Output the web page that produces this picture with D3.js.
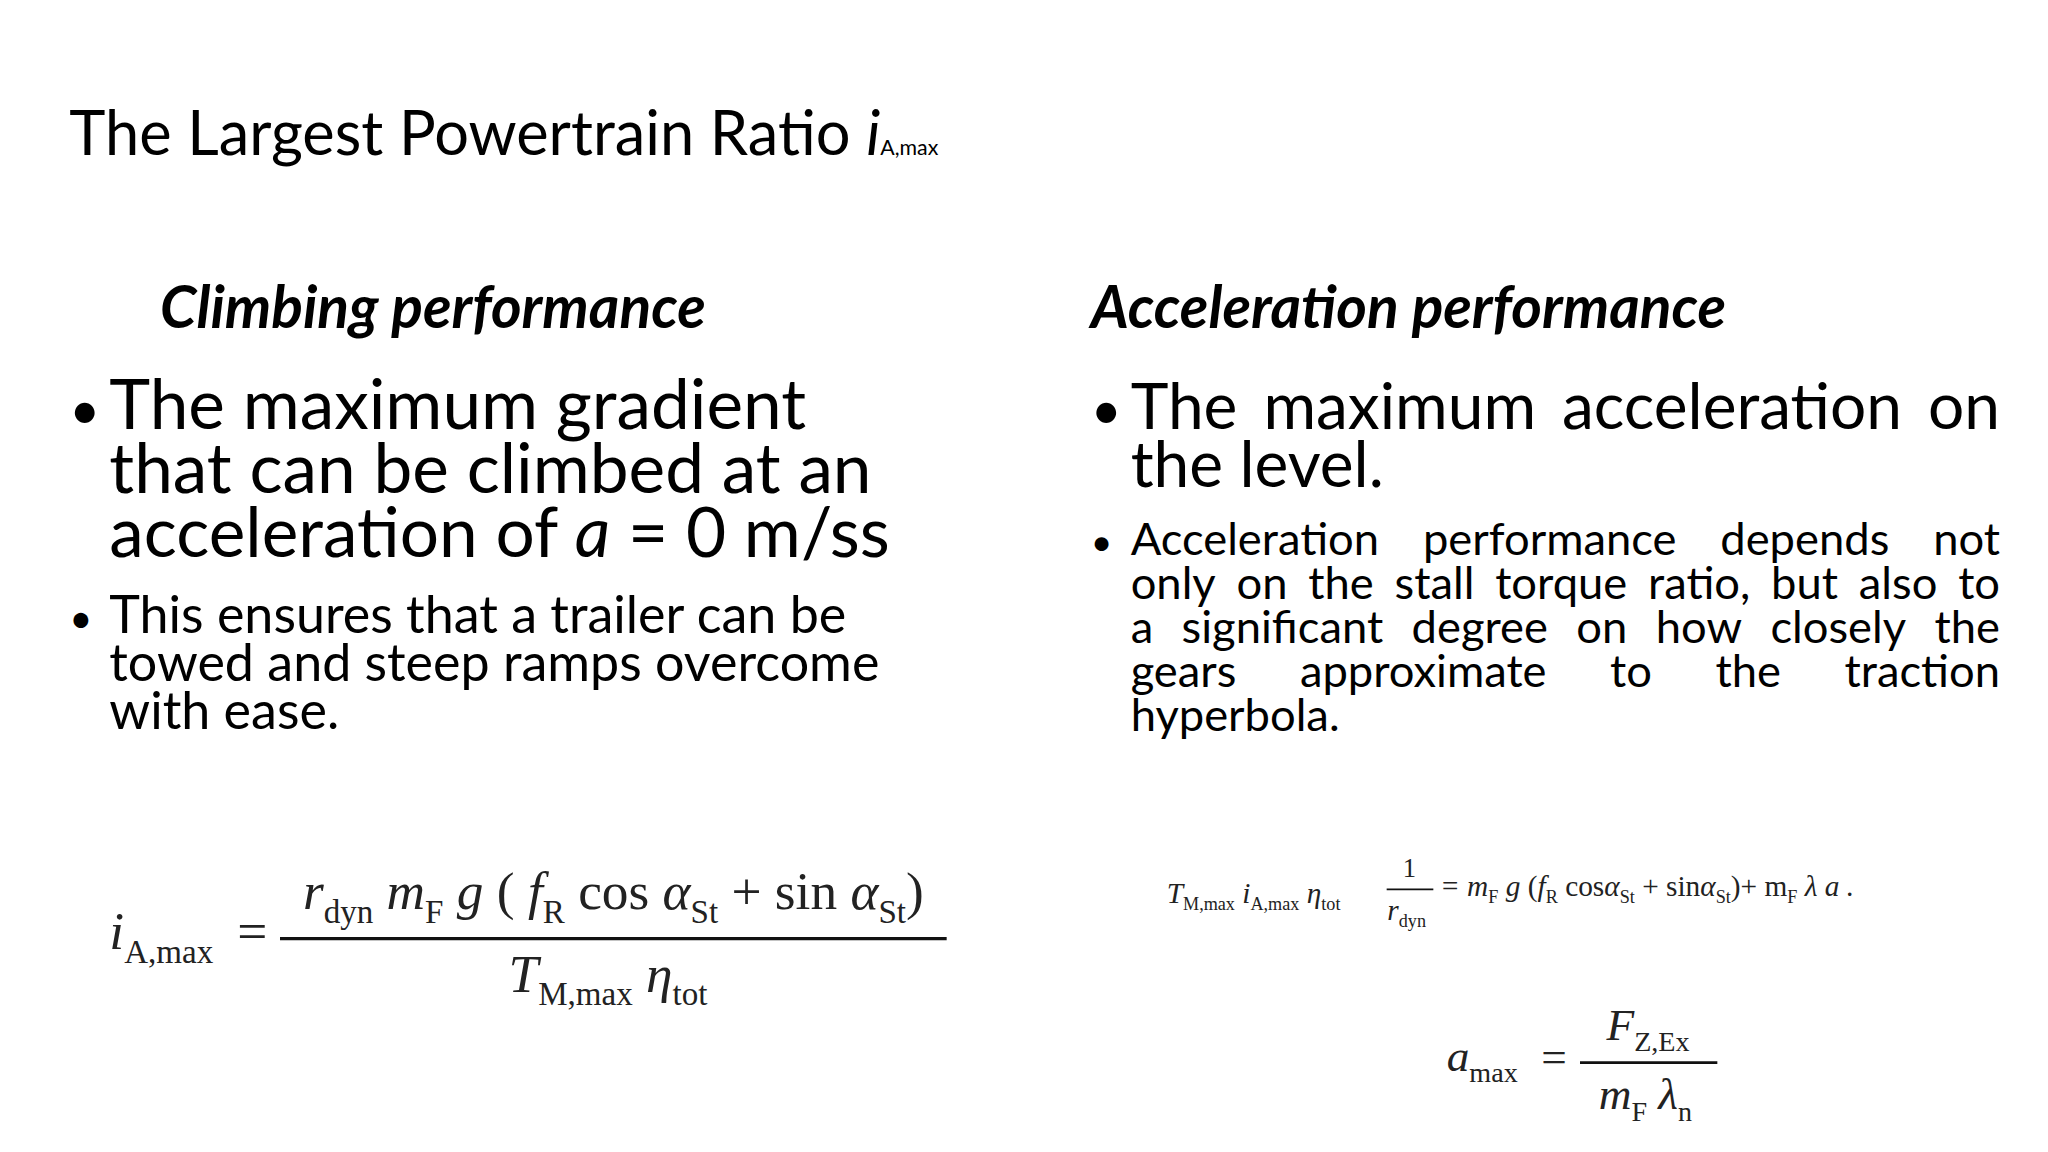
<!DOCTYPE html>
<html><head><meta charset="utf-8">
<script src="https://cdn.jsdelivr.net/npm/d3@7"></script>
<style>body{margin:0;background:#fff}svg{display:block}</style>
</head><body>
<script>
// slide text, kept as plain arrays
const title = "The Largest Powertrain Ratio ";
const leftHead = "Climbing performance";
const rightHead = "Acceleration performance";
const leftBig = ["The maximum gradient", "that can be climbed at an", "acceleration of |a| = 0 m/ss"];
const leftSmall = ["This ensures that a trailer can be", "towed and steep ramps overcome", "with ease."];
const rightBig = ["The maximum acceleration on", "the level."];
const rightSmall = ["Acceleration performance depends not", "only on the stall torque ratio, but also to",
  "a significant degree on how closely the", "gears approximate to the traction", "hyperbola."];

// formulas: [text, kind]  kind: i italic, n normal, s subscript
const f1Left = [["i","i"],["A,max","s"]];
const f1Num = [["r","i"],["dyn","s"],[" m","i"],["F","s"],[" g","i"],[" (","n"],[" f","i"],["R","s"],[" cos","n"],[" α","i"],["St","s"],[" + sin","n"],[" α","i"],["St","s"],[")","n"]];
const f1Den = [["T","i"],["M,max","s"],[" η","i"],["tot","s"]];
const f2Left = [["T","i"],["M,max","s"],[" i","i"],["A,max","s"],[" η","i"],["tot","s"]];
const f2Right = [["= m","i"],["F","s"],[" g","i"],[" (","n"],["f","i"],["R","s"],[" cos","n"],["α","i"],["St","s"],[" + sin","n"],["α","i"],["St","s"],[")+ m","n"],["F","s"],[" λ a .","i"]];
const f3Left = [["a","i"],["max","s"]];
const f3Num = [["F","i"],["Z,Ex","s"]];
const f3Den = [["m","i"],["F","s"],[" λ","i"],["n","s"]];

const svg = d3.select("body").append("svg")
  .attr("width", 2048).attr("height", 1152)
  .attr("viewBox", "0 0 1536 864");

const sans = "Lato, 'Open Sans', sans-serif";
const serif = "'Liberation Serif', 'DejaVu Serif', serif";

// title
const t = svg.append("text").attr("x", 52).attr("y", 116)
  .attr("font-family", sans).attr("font-size", 46).attr("fill", "#000");
t.append("tspan").text(title);
t.append("tspan").attr("font-style", "italic").text("i");
t.append("tspan").attr("font-size", 16).text("A,max");

svg.append("text").attr("x", 120).attr("y", 246).attr("font-family", sans)
  .attr("font-size", 44).attr("font-weight", "bold").attr("font-style", "italic").text(leftHead);
svg.append("text").attr("x", 818).attr("y", 246).attr("font-family", sans)
  .attr("font-size", 44).attr("font-weight", "bold").attr("font-style", "italic").text(rightHead);

// plain line with |italic| parts
function line(x, y, s, size) {
  const el = svg.append("text").attr("x", x).attr("y", y).attr("font-family", sans).attr("font-size", size);
  s.split("|").forEach((p, i) => el.append("tspan").attr("font-style", i % 2 ? "italic" : null).text(p));
  return el;
}
// justified line: words spread from x0 to x1
function justLine(x0, x1, y, s, size) {
  const words = s.split(" ");
  const els = words.map(w => svg.append("text").attr("y", y).attr("font-family", sans).attr("font-size", size).text(w));
  const widths = els.map(e => e.node().getComputedTextLength());
  const gap = words.length > 1 ? (x1 - x0 - d3.sum(widths)) / (words.length - 1) : 0;
  let x = x0;
  els.forEach((e, i) => { e.attr("x", x); x += widths[i] + gap; });
}
function bullet(x, y, size) {
  svg.append("text").attr("x", x).attr("y", y).attr("font-family", sans).attr("font-size", size).text("•");
}

bullet(52, 322, 40);
leftBig.forEach((s, i) => line(82, 322 + i * 48, s, 52));
bullet(52, 475, 30);
leftSmall.forEach((s, i) => line(82, 475 + i * 36, s, 39));

bullet(818, 322, 40);
rightBig.forEach((s, i) => i < rightBig.length - 1 ? justLine(848, 1500, 322 + i * 43, s, 48) : line(848, 322 + i * 43, s, 48));
bullet(818, 416, 28);
rightSmall.forEach((s, i) => i < rightSmall.length - 1 ? justLine(848, 1500, 416 + i * 33, s, 34) : line(848, 416 + i * 33, s, 34));

// math helper: writes segments, returns text element
function math(x, y, segs, size, anchor) {
  const el = svg.append("text").attr("x", x).attr("y", y).attr("font-family", serif)
    .attr("font-size", size).attr("text-anchor", anchor || "start").attr("fill", "#222");
  let down = false;
  segs.forEach(([txt, k]) => {
    const sp = el.append("tspan").text(txt);
    if (k === "s") { sp.attr("font-size", size * 0.62).attr("dy", down ? 0 : size * 0.25); down = true; }
    else { sp.attr("font-style", k === "i" ? "italic" : null).attr("dy", down ? -size * 0.25 : 0); down = false; }
  });
  return el;
}
function rule(x1, x2, y, w) {
  svg.append("line").attr("x1", x1).attr("x2", x2).attr("y1", y).attr("y2", y)
    .attr("stroke", "#111").attr("stroke-width", w);
}

// formula 1
math(82, 712, f1Left, 40);
math(178, 712, [["=","n"]], 40);
math(460, 682, f1Num, 40, "middle");
rule(210, 710, 704, 2.5);
math(456, 744, f1Den, 40, "middle");

// formula 2
math(875, 677, f2Left, 22);
math(1057, 658, [["1","n"]], 20, "middle");
rule(1040, 1075, 667, 1.2);
math(1055, 690, [["r","i"],["dyn","s"]], 22, "middle");
math(1080, 672, f2Right, 22);

// formula 3
math(1085, 803, f3Left, 34);
math(1156, 804, [["=","n"]], 34);
math(1236, 780, f3Num, 34, "middle");
rule(1185, 1288, 797, 2);
math(1234, 832, f3Den, 34, "middle");
</script>
</body></html>
